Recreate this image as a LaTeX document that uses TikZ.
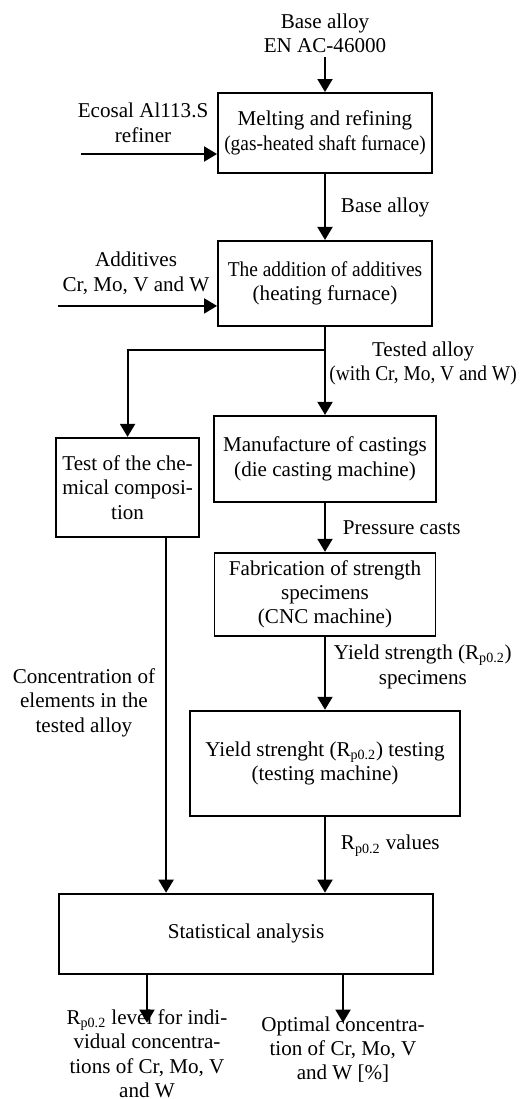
\documentclass[tikz,border=0pt]{standalone}
\usepackage{fontspec}
\setmainfont{Liberation Serif}
\usepackage{graphicx}
\usetikzlibrary{positioning,arrows.meta}
\newcommand{\tightline}[1]{\scalebox{0.92}[1]{#1}}

\begin{document}
\begin{tikzpicture}[node distance=1.0cm, font=\fontsize{12pt}{13.9pt}\selectfont,
    box/.style={draw, rectangle, line width=1.1pt, align=center, inner sep=2pt},
    lbl/.style={align=center, inner sep=2pt},
    arr/.style={line width=1.1pt, -{Triangle[length=0.26cm, width=0.3cm]}}]
    \useasboundingbox (0,0) rectangle (10.38,-21.98);
    % melting
    \node[box, minimum width=4.28cm, minimum height=1.6cm] (melt) at (6.5,-2.66) {Melting and refining\\\tightline{(gas-heated shaft furnace)}};
    \node[lbl, above=0.7cm of melt] (base) {Base alloy\\EN AC-46000};
    \draw[arr] (base) -- (melt);
    
    % refiner
    \coordinate[below left=0.42cm and 2.72cm of melt.west] (ecoin);
    \draw[arr] (ecoin) -- node[lbl, above=0.14cm, xshift=-0.12cm] (ecosal) {Ecosal Al113.S\\refiner} (ecoin -| melt.west);
    
    % additives
    \node[box, minimum width=4.28cm, minimum height=1.7cm, below=1.32cm of melt] (addit) {\tightline{The addition of additives}\\(heating furnace)};
    \draw[arr] (melt) -- node[lbl, right=0.23cm] (basel) {Base alloy} (addit);
    \coordinate[below left=0.45cm and 3.18cm of addit.west] (addin);
    \draw[arr] (addin) -- node[lbl, above=0.14cm, xshift=-0.03cm] (additl) {Additives\\Cr, Mo, V and W} (addin -| addit.west);
    
    % castings
    \coordinate[below=0.46cm of addit.south] (split);
    \node[box, minimum width=4.44cm, minimum height=1.72cm, below=1.76cm of addit] (cast) {Manufacture of castings\\(die casting machine)};
    \draw[arr] (addit) -- node[lbl, right=0pt, yshift=0.15cm] (testedl) {Tested alloy\\\tightline{(with Cr, Mo, V and W)}} (cast);
    
    % chemical test
    \node[box, minimum width=2.86cm, minimum height=1.98cm, left=0.26cm of cast, yshift=-0.57cm] (test) {Test of the che-\\mical composi-\\tion};
    \draw[arr] (split) -| (test);
    
    % specimens
    \node[box, minimum width=4.42cm, minimum height=1.66cm, below=0.98cm of cast] (fab) {Fabrication of strength\\specimens\\(CNC machine)};
    \draw[arr] (cast) -- node[lbl, right=0.27cm] (pressl) {Pressure casts} (fab);
    
    % yield testing
    \node[box, minimum width=5.4cm, minimum height=2.1cm, below=1.46cm of fab] (yield) {Yield strenght (R\textsubscript{p0.2}) testing\\(testing machine)};
    \draw[arr] (fab) -- node[lbl, right=0.09cm, yshift=0.13cm] (specl) {Yield strength (R\textsubscript{p0.2})\\specimens} (yield);
    
    % statistics
    \node[box, minimum width=7.48cm, minimum height=1.6cm, below=1.52cm of yield, xshift=-1.58cm] (stats) {Statistical analysis};
    \draw[arr] (yield.south) -- node[lbl, right=0.23cm, yshift=0.18cm] (rvall) {R\textsubscript{p0.2} values} (yield.south |- stats.north);
    \coordinate[right=0.77cm of test.south] (testout);
    \draw[arr] (testout) -- node[lbl, left=0.13cm, yshift=0.25cm] (concl) {Concentration of\\elements in the\\tested alloy} (testout |- stats.north);
    
    % results
    \coordinate[below left=0.96cm and 1.98cm of stats.south] (out1);
    \coordinate[below right=0.96cm and 1.94cm of stats.south] (out2);
    \draw[arr] (out1 |- stats.south) -- (out1);
    \draw[arr] (out2 |- stats.south) -- (out2);
    \node[lbl, below=-0.34cm of out1] (res1) {R\textsubscript{p0.2} level for indi-\\vidual concentra-\\tions of Cr, Mo, V\\and W};
    \node[lbl, below=-0.2cm of out2] (res2) {Optimal concentra-\\tion of Cr, Mo, V\\and W [\%]};
\end{tikzpicture}
\end{document}
